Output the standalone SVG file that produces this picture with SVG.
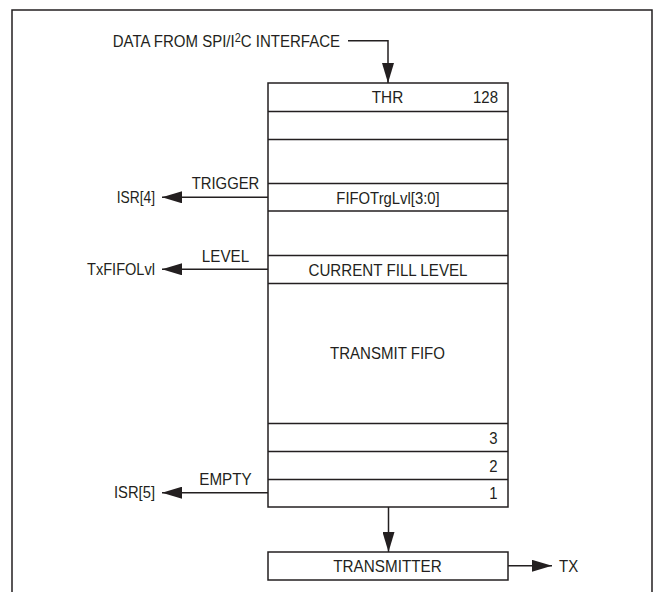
<svg xmlns="http://www.w3.org/2000/svg" width="654" height="592" viewBox="0 0 654 592">
<style>
.ln{fill:none;stroke:#231f20;stroke-width:1.5}
.bx{fill:#fff;stroke:#231f20;stroke-width:1.5}
text{font-family:"Liberation Sans",Arial,sans-serif;font-size:16.5px;fill:#231f20}
.c{text-anchor:middle}
.e{text-anchor:end}
</style>
<defs>
<marker id="ah" markerWidth="20" markerHeight="12" refX="20" refY="6" orient="auto" markerUnits="userSpaceOnUse">
<path d="M0,0 L20,6 L0,12 Z" fill="#231f20"/>
</marker>
</defs>
<rect width="654" height="592" fill="#fff"/>
<path class="ln" d="M12,600 V10 H652 V600" stroke-width="2"/>
<g id="fifo">
<rect class="bx" x="268" y="83" width="240" height="424"/>
<path class="ln" d="M268,111.5 H508 M268,139.5 H508 M268,183.5 H508 M268,211 H508 M268,255.5 H508 M268,283.5 H508 M268,423.5 H508 M268,451.5 H508 M268,479.5 H508"/>
<text class="c" x="387.5" y="103.3" textLength="31.5" lengthAdjust="spacingAndGlyphs">THR</text>
<text class="e" x="498" y="103.3" textLength="25" lengthAdjust="spacingAndGlyphs">128</text>
<text class="c" x="388" y="203.5" textLength="103.3" lengthAdjust="spacingAndGlyphs">FIFOTrgLvl[3:0]</text>
<text class="c" x="388" y="276" textLength="159" lengthAdjust="spacingAndGlyphs">CURRENT FILL LEVEL</text>
<text class="c" x="387.5" y="359.3" textLength="115" lengthAdjust="spacingAndGlyphs">TRANSMIT FIFO</text>
<text class="e" x="497.5" y="443.5" textLength="8.3" lengthAdjust="spacingAndGlyphs">3</text>
<text class="e" x="497.5" y="471.5" textLength="8.3" lengthAdjust="spacingAndGlyphs">2</text>
<text class="e" x="497.5" y="499.3" textLength="8.3" lengthAdjust="spacingAndGlyphs">1</text>
</g>
<g id="transmitter">
<rect class="bx" x="268" y="552" width="240" height="28"/>
<text class="c" x="387.5" y="571.7" textLength="108.4" lengthAdjust="spacingAndGlyphs">TRANSMITTER</text>
</g>
<g id="connectors">
<path class="ln" d="M348,40.7 H388 V83" marker-end="url(#ah)"/>
<path class="ln" d="M268,197.3 H162" marker-end="url(#ah)"/>
<path class="ln" d="M268,269.3 H162" marker-end="url(#ah)"/>
<path class="ln" d="M268,492.7 H162" marker-end="url(#ah)"/>
<path class="ln" d="M388.5,507 V552" marker-end="url(#ah)"/>
<path class="ln" d="M508,565.8 H552" marker-end="url(#ah)"/>
</g>
<g id="labels">
<text transform="translate(112.7,46.7) scale(0.91,1)" x="0" y="0">DATA FROM SPI/I<tspan font-size="12" dy="-4.5">2</tspan><tspan dy="4.5">C INTERFACE</tspan></text>
<text class="c" x="225.5" y="189.3" textLength="67.6" lengthAdjust="spacingAndGlyphs">TRIGGER</text>
<text class="e" x="155" y="202.8" textLength="38.3" lengthAdjust="spacingAndGlyphs">ISR[4]</text>
<text class="c" x="225.5" y="261.7" textLength="47.3" lengthAdjust="spacingAndGlyphs">LEVEL</text>
<text class="e" x="155" y="274.8" textLength="68" lengthAdjust="spacingAndGlyphs">TxFIFOLvl</text>
<text class="c" x="225.5" y="485" textLength="52.4" lengthAdjust="spacingAndGlyphs">EMPTY</text>
<text class="e" x="155" y="498.2" textLength="41" lengthAdjust="spacingAndGlyphs">ISR[5]</text>
<text x="559" y="571.7" textLength="19.2" lengthAdjust="spacingAndGlyphs">TX</text>
</g>
</svg>
